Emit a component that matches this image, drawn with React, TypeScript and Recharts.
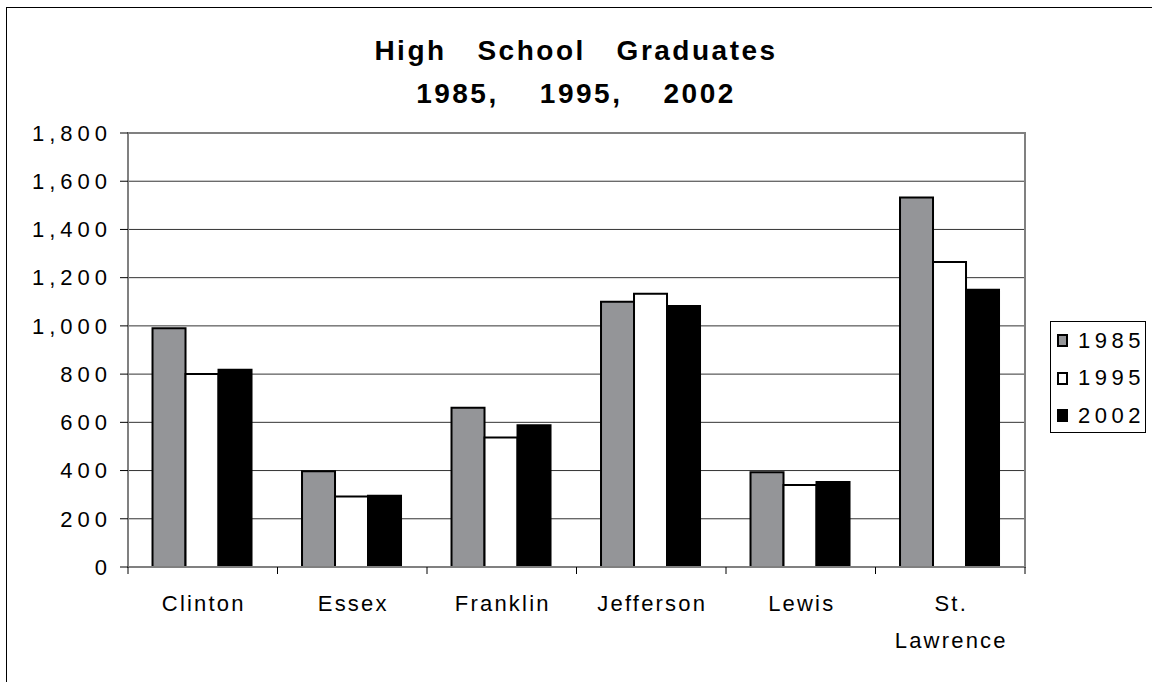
import React from "react";
import {
  BarChart,
  Bar,
  XAxis,
  YAxis,
  CartesianGrid,
  Legend,
  ReferenceArea,
} from "recharts";

const categories = ["Clinton", "Essex", "Franklin", "Jefferson", "Lewis", "St. Lawrence"];
const values1985 = [990, 397, 660, 1100, 393, 1533];
const values1995 = [800, 292, 537, 1133, 340, 1265];
const values2002 = [818, 296, 588, 1082, 353, 1150];
const seriesNames = ["1985", "1995", "2002"];
const seriesFills = ["#949598", "#ffffff", "#000000"];
const yTicks = [0, 200, 400, 600, 800, 1000, 1200, 1400, 1600, 1800];
const titleLines = ["High   School   Graduates", "1985,    1995,    2002"];

const FONT = "'Liberation Sans', Arial, Helvetica, sans-serif";
const W = 1152;
const H = 682;
const MARGIN = { top: 133, right: 127, bottom: 25, left: 28 };
const Y_AXIS_W = 100;
const X_AXIS_H = 90;
const PLOT_W = W - MARGIN.left - MARGIN.right - Y_AXIS_W;

const data = categories.map((c, i) => ({
  name: c,
  s1985: values1985[i],
  s1995: values1995[i],
  s2002: values2002[i],
}));
const seriesKeys = ["s1985", "s1995", "s2002"];

function CategoryTick(props: any) {
  const { x, y, payload, index } = props;
  const fallback = PLOT_W / categories.length / 2;
  const half = payload && typeof payload.offset === "number" && payload.offset > 5 ? payload.offset : fallback;
  const lines = String(payload.value).split(" ");
  return (
    <g>
      <line x1={x - half} x2={x - half} y1={y} y2={y + 7} stroke="#000" strokeWidth={1} />
      {index === categories.length - 1 && (
        <line x1={x + half} x2={x + half} y1={y} y2={y + 7} stroke="#000" strokeWidth={1} />
      )}
      <text
        x={x}
        y={y + 44}
        textAnchor="middle"
        fontSize={22}
        fontFamily={FONT}
        letterSpacing={2.2}
        fill="#000"
      >
        {lines.map((l, i) => (
          <tspan key={i} x={x + 1} dy={i === 0 ? 0 : 37}>
            {l}
          </tspan>
        ))}
      </text>
    </g>
  );
}

function LegendBox(props: any) {
  return (
    <div
      style={{
        border: "1px solid #000",
        width: 96,
        height: 112,
        boxSizing: "border-box",
        background: "#fff",
        paddingTop: 0,
      }}
    >
      {seriesNames.map((n, i) => (
        <div key={n} style={{ display: "flex", alignItems: "center", height: 37.5 }}>
          <span
            style={{
              display: "inline-block",
              width: 13,
              height: 13,
              boxSizing: "border-box",
              border: "2px solid #000",
              background: seriesFills[i],
              marginLeft: 6,
              marginRight: 10,
            }}
          />
          <span
            style={{
              fontFamily: FONT,
              fontSize: 22,
              letterSpacing: 4.5,
              color: "#000",
              lineHeight: "22px",
            }}
          >
            {n}
          </span>
        </div>
      ))}
    </div>
  );
}

export default function App() {
  return (
    <div
      style={{
        position: "fixed",
        left: 0,
        top: 0,
        width: W,
        height: H,
        overflow: "hidden",
        background: "#fff",
      }}
    >
      <div
        style={{
          position: "absolute",
          left: 6,
          top: 7,
          width: 1200,
          height: 720,
          border: "1px solid #000",
        }}
      />
      <div
        style={{
          position: "absolute",
          left: 0,
          top: 29,
          width: W,
          textAlign: "center",
          fontFamily: FONT,
          fontWeight: "bold",
          fontSize: 28,
          lineHeight: "43px",
          letterSpacing: 2.5,
          whiteSpace: "pre",
          color: "#000",
        }}
      >
        {titleLines.map((t) => (
          <div key={t}>{t}</div>
        ))}
      </div>
      <div style={{ position: "absolute", left: 0, top: 0 }}>
        <BarChart
          width={W}
          height={H}
          data={data}
          margin={MARGIN}
          barCategoryGap="16.4%"
          barGap={0}
        >
          <CartesianGrid horizontal vertical={false} stroke="#333333" strokeWidth={1} />
          <ReferenceArea
            y1={0}
            y2={1800}
            fill="none"
            stroke="#808080"
            strokeWidth={2}
            ifOverflow="visible"
          />
          <XAxis
            dataKey="name"
            height={X_AXIS_H}
            tickLine={false}
            tickSize={0}
            tickMargin={0}
            axisLine={{ stroke: "#808080", strokeWidth: 2 }}
            tick={<CategoryTick />}
            interval={0}
          />
          <YAxis
            width={Y_AXIS_W}
            domain={[0, 1800]}
            ticks={yTicks}
            interval={0}
            tickSize={8}
            tickMargin={8}
            tickLine={{ stroke: "#000" }}
            axisLine={{ stroke: "#808080", strokeWidth: 2 }}
            tickFormatter={(v: number) => v.toLocaleString("en-US")}
            tick={{ fontSize: 22, fill: "#000", fontFamily: FONT, letterSpacing: 5 }}
          />
          <Legend
            layout="vertical"
            align="center"
            verticalAlign="middle"
            wrapperStyle={{ position: "absolute", left: 1050, top: 321, width: 96, height: 112 }}
            content={<LegendBox />}
          />
          {seriesKeys.map((k, i) => (
            <Bar
              key={k}
              dataKey={k}
              name={seriesNames[i]}
              fill={seriesFills[i]}
              stroke="#000"
              strokeWidth={2}
              isAnimationActive={false}
            />
          ))}
        </BarChart>
      </div>
    </div>
  );
}
